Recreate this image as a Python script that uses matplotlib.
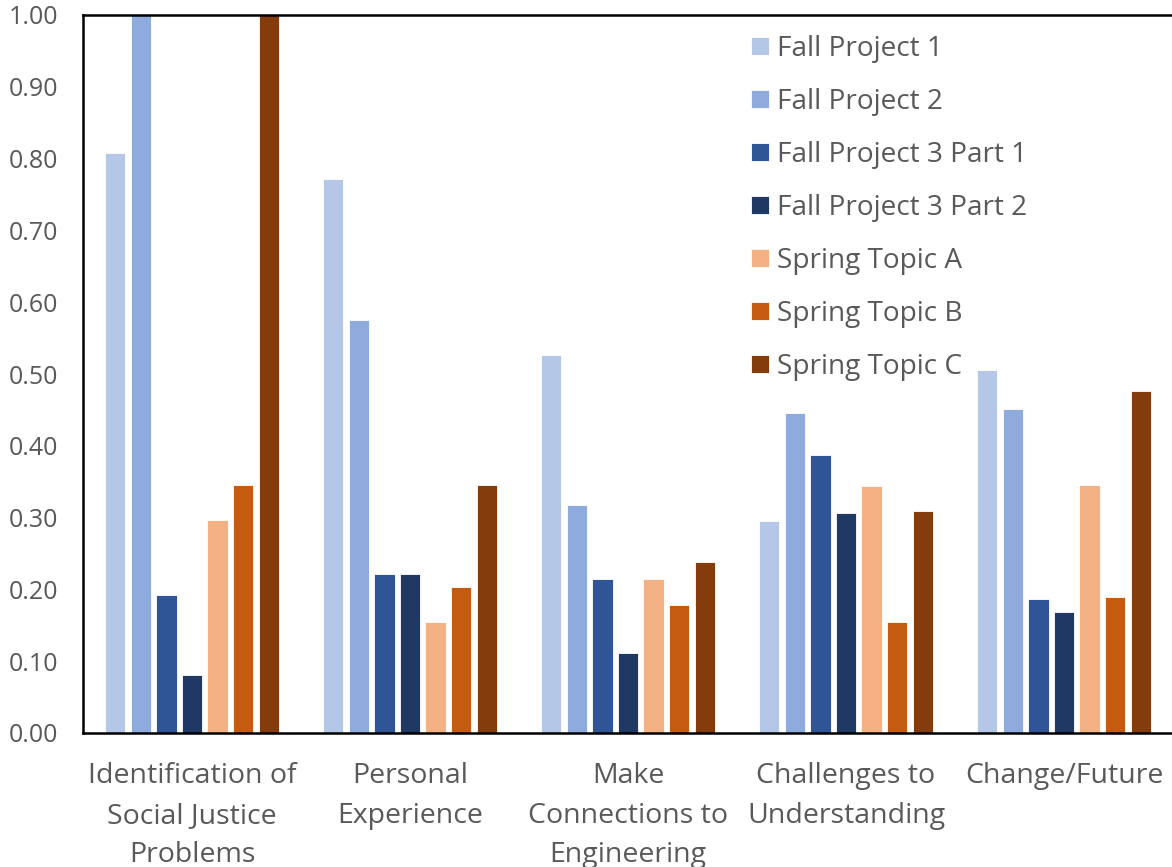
import numpy as np
import matplotlib
matplotlib.use("Agg")
import matplotlib.pyplot as plt

plt.rcParams['font.family'] = ['Open Sans', 'DejaVu Sans']

categories = [
    "Identification of\nSocial Justice\nProblems",
    "Personal\nExperience",
    "Make\nConnections to\nEngineering",
    "Challenges to\nUnderstanding",
    "Change/Future",
]

series_names = [
    "Fall Project 1",
    "Fall Project 2",
    "Fall Project 3 Part 1",
    "Fall Project 3 Part 2",
    "Spring Topic A",
    "Spring Topic B",
    "Spring Topic C",
]

fall_project_1 = [0.808, 0.772, 0.526, 0.295, 0.505]
fall_project_2 = [1.000, 0.575, 0.317, 0.446, 0.451]
fall_project_3_part_1 = [0.192, 0.222, 0.214, 0.387, 0.187]
fall_project_3_part_2 = [0.081, 0.222, 0.111, 0.307, 0.169]
spring_topic_a = [0.297, 0.155, 0.214, 0.344, 0.345]
spring_topic_b = [0.345, 0.203, 0.178, 0.155, 0.190]
spring_topic_c = [1.000, 0.345, 0.238, 0.309, 0.476]

series_values = [
    fall_project_1, fall_project_2, fall_project_3_part_1, fall_project_3_part_2,
    spring_topic_a, spring_topic_b, spring_topic_c,
]

colors = ["#B4C7E7", "#8FAADC", "#2F5597", "#203864", "#F4B183", "#C55A11", "#843C0C"]

y_ticks = [0.0, 0.1, 0.2, 0.3, 0.4, 0.5, 0.6, 0.7, 0.8, 0.9, 1.0]

text_color = "#595959"
W, H = 1172, 867
fig = plt.figure(figsize=(W / 100, H / 100), dpi=100)
ax = fig.add_axes([83 / W, 1 - 733 / H, 1090 / W, (733 - 15) / H])

x = np.arange(len(categories))
slot = 0.1174
bar_w = 0.093
n = len(series_values)
for i, (name, vals, c) in enumerate(zip(series_names, series_values, colors)):
    offs = (i - (n - 1) / 2) * slot
    ax.bar(x + offs, vals, width=bar_w, color=c, edgecolor="white",
           linewidth=0.6, label=name, zorder=2)

ax.set_xlim(-0.5, len(categories) - 0.5)
ax.set_ylim(0, 1.0)
ax.set_yticks(y_ticks)
ax.set_yticklabels([f"{v:.2f}" for v in y_ticks])
ax.set_xticks(x)
ax.set_xticklabels(categories, linespacing=1.55)

ax.tick_params(axis="y", length=0, pad=18, labelsize=18, labelcolor=text_color)
ax.tick_params(axis="x", length=0, pad=21, labelsize=20.5, labelcolor=text_color)

for side in ["left", "top", "bottom"]:
    ax.spines[side].set_linewidth(1.8)
    ax.spines[side].set_color("black")
ax.spines["right"].set_visible(False)

leg = ax.legend(loc="upper left", bbox_to_anchor=(751 / W, 1 - 35 / H),
                bbox_transform=fig.transFigure, frameon=False,
                fontsize=20.2, labelcolor=text_color,
                handlelength=0.64, handleheight=0.64, handletextpad=0.3,
                labelspacing=0.89, borderpad=0, borderaxespad=0)

fig.savefig("out.png", dpi=100)
